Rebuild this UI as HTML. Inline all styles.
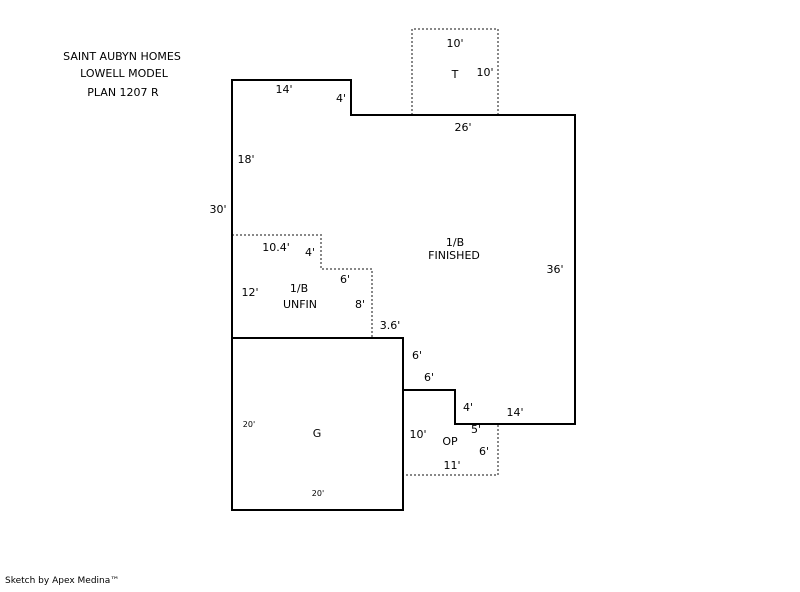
<!DOCTYPE html>
<html><head><style>
body{margin:0;background:#fff;width:800px;height:587px;overflow:hidden}
svg text{font-family:"DejaVu Sans","Liberation Sans",sans-serif;font-size:11px;fill:#000}
</style></head><body>
<svg width="800" height="587" viewBox="0 0 800 587" xmlns="http://www.w3.org/2000/svg">
<g fill="none" stroke="#888" stroke-width="2" stroke-dasharray="2,2">
<polyline points="412,115 412,29 498,29 498,115"/>
<polyline points="232,235 321,235 321,269 372,269 372,338"/>
<polyline points="455,424 498,424 498,475 403,475"/>
</g>
<g fill="none" stroke="#000" stroke-width="2">
<polygon points="232,80 351,80 351,115 575,115 575,424 455,424 455,390 403,390 403,338 232,338"/>
<rect x="232" y="338" width="171" height="172"/>
</g>
<g text-anchor="middle">
<text x="122" y="60">SAINT AUBYN HOMES</text>
<text x="124" y="77">LOWELL MODEL</text>
<text x="123" y="96">PLAN 1207 R</text>
<text x="284" y="93">14'</text>
<text x="341" y="102">4'</text>
<text x="463" y="131">26'</text>
<text x="455" y="47">10'</text>
<text x="455" y="78">T</text>
<text x="485" y="76">10'</text>
<text x="246" y="163">18'</text>
<text x="218" y="213">30'</text>
<text x="276" y="251">10.4'</text>
<text x="310" y="256">4'</text>
<text x="455" y="246">1/B</text>
<text x="454" y="259">FINISHED</text>
<text x="345" y="283">6'</text>
<text x="555" y="273">36'</text>
<text x="299" y="292">1/B</text>
<text x="250" y="296">12'</text>
<text x="300" y="308">UNFIN</text>
<text x="360" y="308">8'</text>
<text x="390" y="329">3.6'</text>
<text x="417" y="359">6'</text>
<text x="429" y="381">6'</text>
<text x="468" y="411">4'</text>
<text x="515" y="416">14'</text>
<text x="476" y="433">5'</text>
<text x="418" y="438">10'</text>
<text x="450" y="445">OP</text>
<text x="484" y="455">6'</text>
<text x="452" y="469">11'</text>
<text x="249" y="427" style="font-size:8px">20'</text>
<text x="317" y="437">G</text>
<text x="318" y="496" style="font-size:8px">20'</text>
</g>
<text x="5" y="583" style="font-size:9px">Sketch by Apex Medina™</text>
</svg>
</body></html>
